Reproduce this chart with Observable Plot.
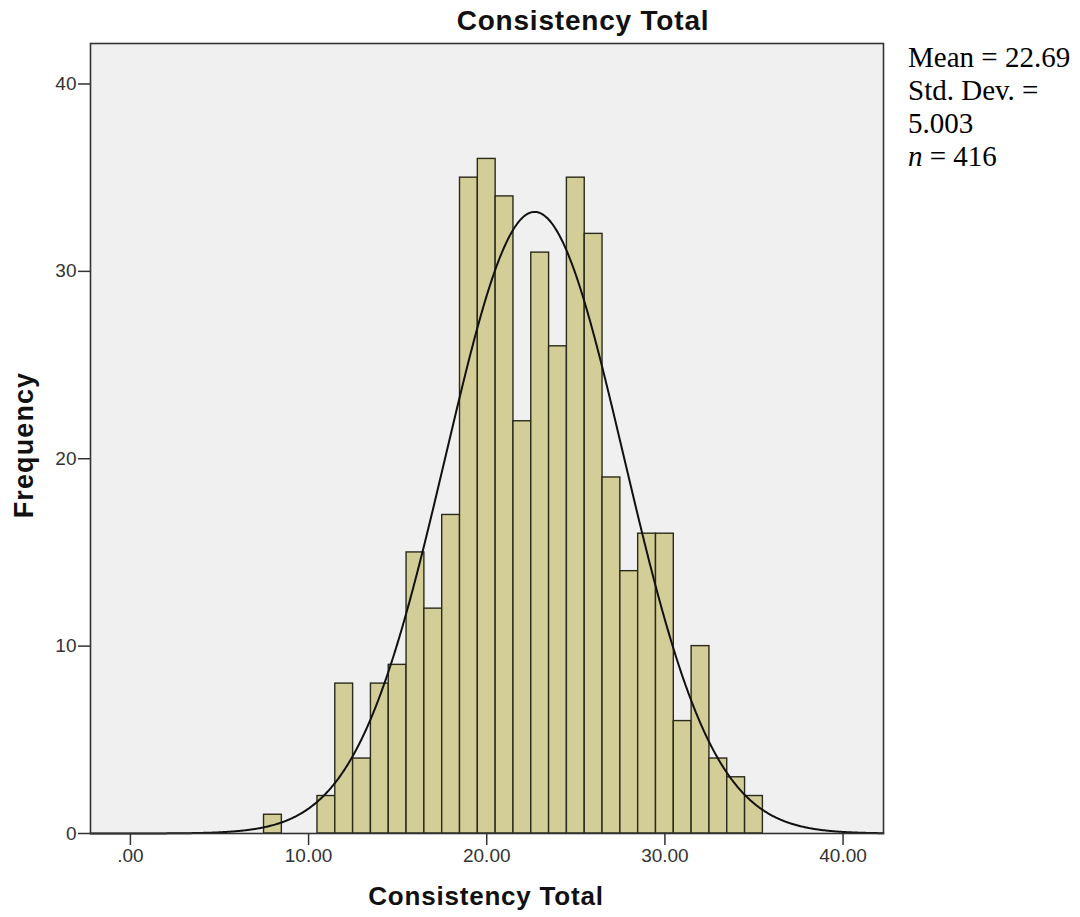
<!DOCTYPE html>
<html>
<head>
<meta charset="utf-8">
<script src="https://cdn.jsdelivr.net/npm/d3@7"></script>
<script src="https://cdn.jsdelivr.net/npm/@observablehq/plot@0.6"></script>
<style>
  body { margin: 0; background: #fff; }
  #wrap { position: relative; width: 1080px; height: 917px; overflow: hidden; }
  #chart { position: absolute; left: 0; top: 0; }
  .lbl { position: absolute; font-family: "Liberation Sans", Arial, sans-serif; font-weight: bold; color: #111; white-space: nowrap; line-height: 1; }
  #title { left: 333px; width: 500px; top: 7px; text-align: center; font-size: 28px; letter-spacing: 0.8px; }
  #xlabel { left: 236px; width: 500px; top: 883px; text-align: center; font-size: 26px; letter-spacing: 0.8px; }
  #ylabel { left: 24px; top: 445px; font-size: 27px; letter-spacing: 1.1px; transform: translate(-50%, -50%) rotate(-90deg); }
  #stats { position: absolute; left: 908px; top: 41px; font-family: "Liberation Serif", "Times New Roman", serif; font-size: 29px; line-height: 33px; color: #000; }
</style>
</head>
<body>
<div id="wrap">
  <div id="chart"></div>
  <div id="title" class="lbl">Consistency Total</div>
  <div id="xlabel" class="lbl">Consistency Total</div>
  <div id="ylabel" class="lbl">Frequency</div>
  <div id="stats"></div>
</div>
<script>
// Histogram bins (centre of each unit-wide bin) and their frequencies
const binCenters = [8, 11, 12, 13, 14, 15, 16, 17, 18, 19, 20, 21, 22, 23, 24, 25, 26, 27, 28, 29, 30, 31, 32, 33, 34, 35];
const frequencies = [1, 2, 8, 4, 8, 9, 15, 12, 17, 35, 36, 34, 22, 31, 26, 35, 32, 19, 14, 16, 16, 6, 10, 4, 3, 2];
const binWidth = 1;

// Summary statistics shown at the right
const meanValue = 22.69;
const stdDev = 5.003;
const nValue = 416;

// Axis ticks
const xTicks = [0, 10, 20, 30, 40];
const yTicks = [0, 10, 20, 30, 40];
const xDomain = [-2.24, 42.27];
const yDomain = [0, 42.16];

const bins = binCenters.map((c, i) => ({x1: c - binWidth / 2, x2: c + binWidth / 2, freq: frequencies[i]}));

// Fitted normal curve scaled to counts: n * binWidth * pdf(x)
const curveXs = d3.range(xDomain[0], xDomain[1] + 0.001, 0.05);
const curve = curveXs.map(x => ({
  x,
  y: nValue * binWidth * Math.exp(-0.5 * ((x - meanValue) / stdDev) ** 2) / (stdDev * Math.sqrt(2 * Math.PI))
}));

const fmtX = d => d === 0 ? ".00" : d3.format(".2f")(d);

const plot = Plot.plot({
  width: 1080,
  height: 917,
  marginLeft: 90,
  marginRight: 197,
  marginTop: 43,
  marginBottom: 84,
  style: { fontFamily: "Liberation Sans, Arial, sans-serif", fontSize: "19px", color: "#333", background: "transparent" },
  x: { domain: xDomain, ticks: xTicks, label: null, tickFormat: fmtX },
  y: { domain: yDomain, ticks: yTicks, label: null },
  marks: [
    Plot.frame({ fill: "#f0f0f0", stroke: null }),
    Plot.rectY(bins, { x1: "x1", x2: "x2", y: "freq", fill: "#d3ce97", stroke: "#2a2a1a", strokeWidth: 1.4, insetLeft: 0, insetRight: 0 }),
    Plot.line(curve, { x: "x", y: "y", stroke: "#111", strokeWidth: 2, curve: "linear" }),
    Plot.frame({ stroke: "#333", strokeWidth: 1.6, fill: null }),
    Plot.axisX({ ticks: xTicks, tickFormat: fmtX, tickSize: 12, tickPadding: 3, stroke: "#333", strokeWidth: 1.5, label: null, fontSize: 19 }),
    Plot.axisY({ ticks: yTicks, tickSize: 12, tickPadding: 2, stroke: "#333", strokeWidth: 1.5, label: null, fontSize: 19 })
  ]
});
document.getElementById("chart").appendChild(plot);

document.getElementById("stats").innerHTML =
  `Mean = ${meanValue.toFixed(2)}<br>Std. Dev. =<br>${stdDev.toFixed(3)}<br><i>n</i> = ${nValue}`;
</script>
</body>
</html>
